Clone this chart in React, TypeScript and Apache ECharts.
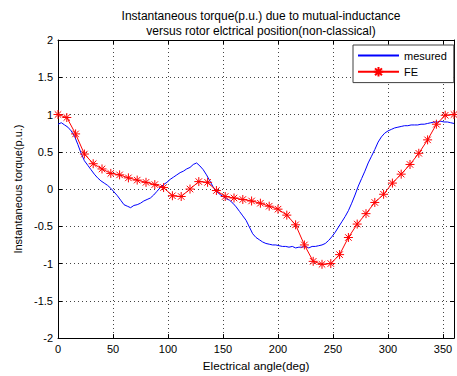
import React, { useEffect, useRef } from "react";
import * as echarts from "echarts";

const titleLines = [
  "Instantaneous torque(p.u.) due to mutual-inductance",
  "versus rotor elctrical position(non-classical)",
];
const xName = "Electrical angle(deg)";
const yName = "Instantaneous torque(p.u.)";

// FE (finite element) — every 8 electrical degrees
const feAngles = [
  0, 8, 16, 24, 32, 40, 48, 56, 64, 72, 80, 88, 96, 104, 112, 120, 128, 136, 144, 152,
  160, 168, 176, 184, 192, 200, 208, 216, 224, 232, 240, 248, 256, 264, 272, 280, 288,
  296, 304, 312, 320, 328, 336, 344, 352, 360,
];
const feValues = [
  1.0, 0.96, 0.74, 0.47, 0.34, 0.27, 0.21, 0.19, 0.15, 0.12, 0.09, 0.06, 0.02, -0.09,
  -0.1, 0.0, 0.1, 0.09, -0.02, -0.1, -0.12, -0.14, -0.16, -0.19, -0.23, -0.27, -0.35,
  -0.48, -0.75, -0.97, -1.01, -1.0, -0.88, -0.65, -0.47, -0.33, -0.18, -0.07, 0.08, 0.2,
  0.33, 0.48, 0.66, 0.87, 0.99, 1.0,
];

// measured — every 3 electrical degrees
const measAngles = [
  0, 3, 6, 9, 12, 15, 18, 21, 24, 27, 30, 33, 36, 39, 42, 45, 48, 51, 54, 57, 60, 63, 66,
  69, 72, 75, 78, 81, 84, 87, 90, 93, 96, 99, 102, 105, 108, 111, 114, 117, 120, 123, 126,
  129, 132, 135, 138, 141, 144, 147, 150, 153, 156, 159, 162, 165, 168, 171, 174, 177, 180,
  183, 186, 189, 192, 195, 198, 201, 204, 207, 210, 213, 216, 219, 222, 225, 228, 231, 234,
  237, 240, 243, 246, 249, 252, 255, 258, 261, 264, 267, 270, 273, 276, 279, 282, 285, 288,
  291, 294, 297, 300, 303, 306, 309, 312, 315, 318, 321, 324, 327, 330, 333, 336, 339, 342,
  345, 348, 351, 354, 357, 360,
];
const measValues = [
  0.87, 0.89, 0.86, 0.83, 0.78, 0.71, 0.6, 0.48, 0.38, 0.32, 0.26, 0.2, 0.15, 0.11, 0.08,
  0.05, 0.01, -0.04, -0.09, -0.15, -0.21, -0.23, -0.25, -0.22, -0.21, -0.19, -0.16, -0.14,
  -0.12, -0.08, -0.03, 0.02, 0.06, 0.09, 0.13, 0.16, 0.19, 0.22, 0.24, 0.27, 0.29, 0.33,
  0.35, 0.31, 0.26, 0.19, 0.11, 0.03, -0.03, -0.07, -0.1, -0.13, -0.15, -0.19, -0.24, -0.3,
  -0.36, -0.42, -0.51, -0.6, -0.65, -0.68, -0.71, -0.73, -0.74, -0.75, -0.75, -0.76, -0.77,
  -0.77, -0.78, -0.77, -0.79, -0.78, -0.78, -0.77, -0.79, -0.77, -0.77, -0.76, -0.75, -0.73,
  -0.69, -0.64, -0.58, -0.51, -0.44, -0.37, -0.29, -0.19, -0.08, 0.04, 0.14, 0.24, 0.35,
  0.44, 0.53, 0.63, 0.7, 0.75, 0.78, 0.8, 0.82, 0.83, 0.84, 0.85, 0.85, 0.86, 0.86, 0.86,
  0.87, 0.87, 0.88, 0.89, 0.9, 0.9, 0.91, 0.9, 0.9, 0.89, 0.88,
];

const FONT = "'Liberation Sans', Arial, sans-serif";
const STAR = "path://M0,-5L0,5M-5,0L5,0M-3.6,-3.6L3.6,3.6M-3.6,3.6L3.6,-3.6";

export default function App() {
  const ref = useRef<HTMLDivElement>(null);
  useEffect(() => {
    if (!ref.current) return;
    const chart = echarts.init(ref.current, undefined, { renderer: "svg" });
    const axisBase = {
      axisLine: { show: true, onZero: false, lineStyle: { color: "#000", width: 1 } },
      axisTick: { show: true, inside: true, length: 4, lineStyle: { color: "#000" } },
    };
    chart.setOption({
      animation: false,
      backgroundColor: "#ffffff",
      title: {
        text: titleLines.join("\n"),
        left: 256,
        top: 4,
        textAlign: "center",
        textStyle: {
          fontFamily: FONT,
          fontSize: 12,
          fontWeight: "normal",
          color: "#000",
          lineHeight: 14.5,
        },
      },
      legend: {
        orient: "vertical",
        left: 353,
        top: 45,
        padding: [5, 7, 5, 4],
        itemWidth: 41,
        itemHeight: 12,
        itemGap: 5,
        backgroundColor: "#ffffff",
        borderColor: "#404040",
        borderWidth: 1,
        borderRadius: 0,
        textStyle: { fontFamily: FONT, fontSize: 11, color: "#000" },
        data: ["mesured", "FE"],
      },
      grid: { left: 58, right: 1, top: 40, bottom: 34, containLabel: false },
      xAxis: [
        {
          type: "value",
          min: 0,
          max: 360,
          interval: 50,
          name: xName,
          nameLocation: "middle",
          nameGap: 19,
          nameTextStyle: { fontFamily: FONT, fontSize: 11.7, color: "#000" },
          ...axisBase,
          axisLabel: {
            fontFamily: FONT,
            fontSize: 11,
            color: "#000",
            margin: 5,
            formatter: (v: number) => (v === 360 ? "" : String(v)),
          },
          splitLine: {
            show: true,
            lineStyle: { color: "#444", width: 1, type: [1, 3] },
          },
        },
        {
          type: "value",
          position: "top",
          min: 0,
          max: 360,
          interval: 50,
          ...axisBase,
          axisLabel: { show: false },
          splitLine: { show: false },
        },
      ],
      yAxis: [
        {
          type: "value",
          min: -2,
          max: 2,
          interval: 0.5,
          name: yName,
          nameLocation: "middle",
          nameGap: 31,
          nameTextStyle: { fontFamily: FONT, fontSize: 11, color: "#000" },
          ...axisBase,
          axisLabel: { fontFamily: FONT, fontSize: 11, color: "#000", margin: 5 },
          splitLine: {
            show: true,
            lineStyle: { color: "#444", width: 1, type: [1, 3] },
          },
        },
        {
          type: "value",
          position: "right",
          min: -2,
          max: 2,
          interval: 0.5,
          ...axisBase,
          axisLabel: { show: false },
          splitLine: { show: false },
        },
      ],
      series: [
        {
          name: "mesured",
          type: "line",
          data: measAngles.map((a, i) => [a, measValues[i]]),
          showSymbol: false,
          symbol: "none",
          lineStyle: { color: "#0000ff", width: 1 },
          itemStyle: { color: "rgba(0,0,0,0)", borderColor: "rgba(0,0,0,0)", borderWidth: 0 },
          z: 3,
        },
        {
          name: "FE",
          type: "line",
          data: feAngles.map((a, i) => [a, feValues[i]]),
          symbol: STAR,
          symbolSize: 9,
          showAllSymbol: true,
          lineStyle: { color: "#ff0000", width: 1 },
          itemStyle: { color: "rgba(0,0,0,0)", borderColor: "#ff0000", borderWidth: 1 },
          z: 4,
        },
      ],
    });
    return () => chart.dispose();
  }, []);
  return (
    <div
      ref={ref}
      style={{ position: "fixed", left: 0, top: 0, width: 457, height: 376, background: "#fff" }}
    />
  );
}
